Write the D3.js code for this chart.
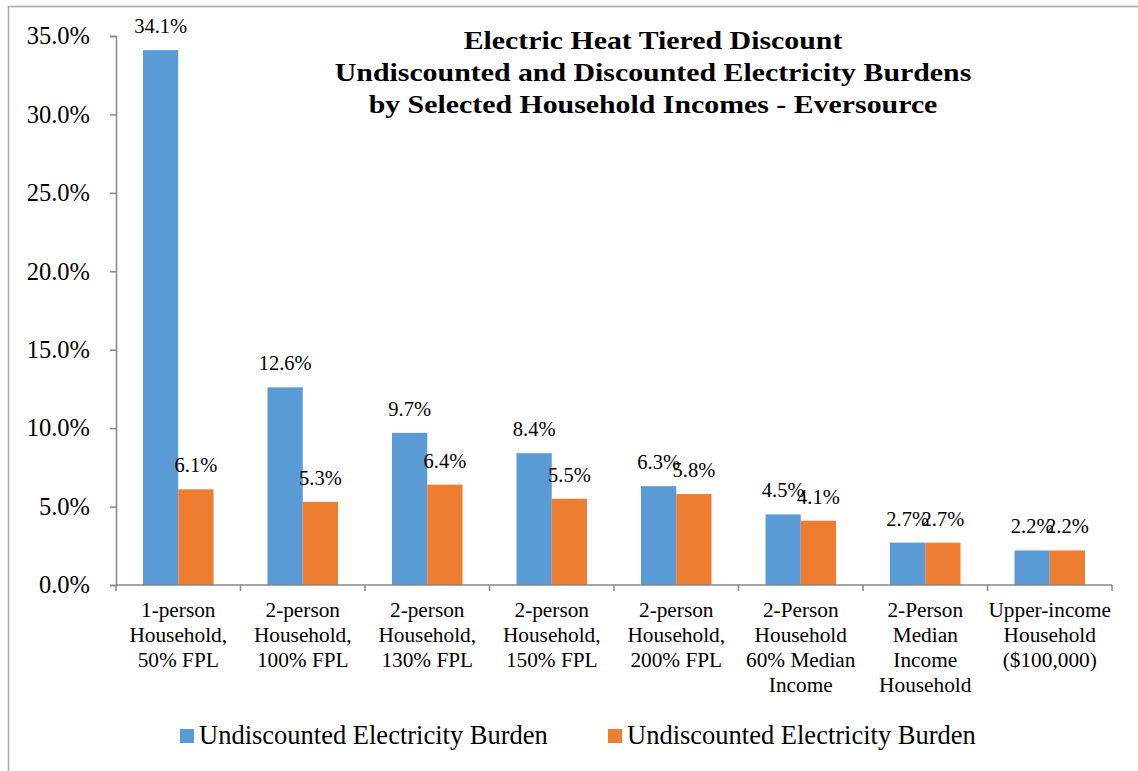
<!DOCTYPE html>
<html>
<head>
<meta charset="utf-8">
<script src="https://cdn.jsdelivr.net/npm/d3@7"></script>
<style>
  html, body { margin: 0; padding: 0; background: #fff; }
  svg { display: block; font-family: "Liberation Serif", "Times New Roman", serif; }
</style>
</head>
<body>
<svg id="chart" width="1138" height="771"></svg>
<script>
// Household categories (multi-line axis labels)
const categories = [
  ["1-person", "Household,", "50% FPL"],
  ["2-person", "Household,", "100% FPL"],
  ["2-person", "Household,", "130% FPL"],
  ["2-person", "Household,", "150% FPL"],
  ["2-person", "Household,", "200% FPL"],
  ["2-Person", "Household", "60% Median", "Income"],
  ["2-Person", "Median", "Income", "Household"],
  ["Upper-income", "Household", "($100,000)"]
];
const seriesNames = ["Undiscounted Electricity Burden", "Undiscounted Electricity Burden"];
const undiscounted = [34.1, 12.6, 9.7, 8.4, 6.3, 4.5, 2.7, 2.2];
const discounted   = [6.1, 5.3, 6.4, 5.5, 5.8, 4.1, 2.7, 2.2];
const yTicks = [0, 5, 10, 15, 20, 25, 30, 35];
const titleLines = [
  "Electric Heat Tiered Discount",
  "Undiscounted and Discounted Electricity Burdens",
  "by Selected Household Incomes - Eversource"
];
const colors = ["#5B9BD5", "#ED7D31"];

const svg = d3.select("#chart");
const W = 1138, H = 771;

// outer frame (left and top edges)
svg.append("path")
  .attr("d", `M8.5,${H} V6.5 H${W}`)
  .attr("fill", "none").attr("stroke", "#a6a6a6").attr("stroke-width", 1.5);

const plot = { left: 116, right: 1112, top: 36, bottom: 585 };

const y = d3.scaleLinear().domain([0, 35]).range([plot.bottom, plot.top]);
const keys = categories.map((c, i) => i);
const x0 = d3.scaleBand().domain(keys).range([plot.left, plot.right]).padding(0);
const gap = x0.step() * 0.2169;
const x1 = d3.scaleBand().domain([0, 1]).range([gap, x0.step() - gap]).padding(0);

const data = keys.map(i => [undiscounted[i], discounted[i]]);

// bars
const groups = svg.append("g").selectAll("g").data(data).join("g")
  .attr("transform", (d, i) => `translate(${x0(i)},0)`);
groups.selectAll("rect").data(d => d.map((v, s) => ({ v, s }))).join("rect")
  .attr("x", d => x1(d.s))
  .attr("width", x1.bandwidth())
  .attr("y", d => y(d.v))
  .attr("height", d => y(0) - y(d.v))
  .attr("fill", d => colors[d.s]);

// value labels
groups.selectAll("text").data(d => d.map((v, s) => ({ v, s }))).join("text")
  .attr("x", d => x1(d.s) + x1.bandwidth() / 2)
  .attr("y", d => y(d.v) - 17)
  .attr("text-anchor", "middle")
  .attr("font-size", 20.5)
  .attr("fill", "#000")
  .text(d => d.v.toFixed(1) + "%");

// y axis
const yAxis = d3.axisLeft(y).tickValues(yTicks).tickSize(6).tickPadding(20)
  .tickFormat(d => d.toFixed(1) + "%");
const gy = svg.append("g").attr("transform", `translate(${plot.left},0)`).call(yAxis);
gy.attr("font-family", null);
gy.select(".domain").attr("stroke", "#868686").attr("stroke-width", 1.5);
gy.selectAll(".tick line").attr("stroke", "#868686").attr("stroke-width", 1.5);
gy.selectAll(".tick text").attr("font-size", 24.5).attr("fill", "#000");

// x axis with tick marks at category boundaries
const gx = svg.append("g").attr("transform", `translate(0,${plot.bottom})`);
gx.append("line").attr("x1", plot.left).attr("x2", plot.right)
  .attr("stroke", "#868686").attr("stroke-width", 1.5);
const bounds = keys.map(i => x0(i)).concat([plot.right]);
gx.selectAll("line.tk").data(bounds).join("line").attr("class", "tk")
  .attr("x1", d => d).attr("x2", d => d).attr("y1", 0).attr("y2", 6)
  .attr("stroke", "#868686").attr("stroke-width", 1.5);

// category labels
const catG = gx.selectAll("text.cat").data(categories).join("text").attr("class", "cat")
  .attr("text-anchor", "middle")
  .attr("font-size", 21.3)
  .attr("fill", "#000");
catG.each(function (lines, i) {
  d3.select(this).selectAll("tspan").data(lines).join("tspan")
    .attr("x", x0(i) + x0.bandwidth() / 2)
    .attr("y", (d, k) => 32 + k * 25)
    .text(d => d);
});

// title (slightly widened lettering)
const titleCx = 653;
svg.append("text")
  .attr("transform", `translate(${titleCx},0) scale(1.17,1)`)
  .attr("text-anchor", "middle")
  .attr("font-size", 25.5).attr("font-weight", "bold").attr("fill", "#000")
  .selectAll("tspan").data(titleLines).join("tspan")
  .attr("x", 0).attr("y", (d, k) => 49.5 + k * 32)
  .text(d => d);

// legend
const legendX = [180, 608];
const lg = svg.append("g").selectAll("g").data(seriesNames).join("g")
  .attr("transform", (d, i) => `translate(${legendX[i]},729)`);
lg.append("rect").attr("width", 14).attr("height", 14).attr("fill", (d, i) => colors[i]);
lg.append("text").attr("x", 19).attr("y", 14.5).attr("font-size", 26.5).attr("fill", "#000")
  .text(d => d);
</script>
</body>
</html>
